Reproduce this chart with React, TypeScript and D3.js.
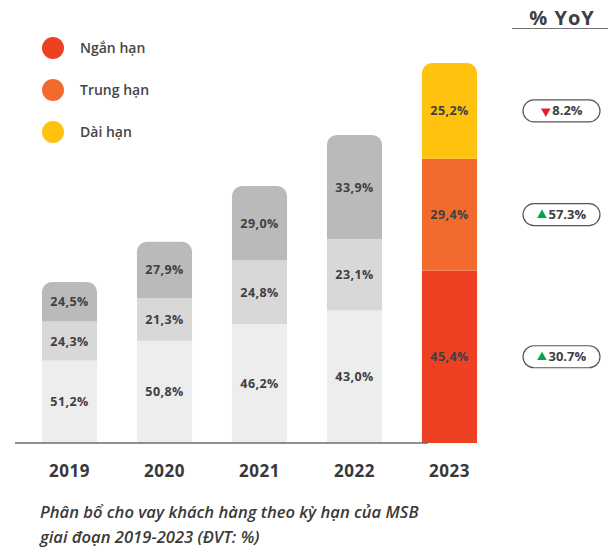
import * as d3 from 'd3';

const years = ['2019', '2020', '2021', '2022', '2023'];
// ước tính tổng dư nợ (tương đối, đọc theo chiều cao cột)
const loanTotals = [59.3, 74.1, 94.7, 113.5, 140];
const shortTerm = [51.2, 50.8, 46.2, 43.0, 45.4];
const midTerm = [24.3, 21.3, 24.8, 23.1, 29.4];
const longTerm = [24.5, 27.9, 29.0, 33.9, 25.2];

const seriesNames = ['Ngắn hạn', 'Trung hạn', 'Dài hạn'];
const seriesColors = ['#EE4123', '#F26A2C', '#FFC20F'];
const grayColors = ['#EDEDED', '#D9D8D9', '#BBBABB'];

const yoyValues = [30.7, 57.3, -8.2]; // theo thứ tự Ngắn, Trung, Dài hạn

const W = 608;
const H = 551;
const baseY = 443;
const textColor = '#404040';
const font = '"Open Sans", sans-serif';

function roundedTop(x: number, y: number, w: number, h: number, r: number) {
  const p = d3.path();
  p.moveTo(x, y + h);
  p.lineTo(x, y + r);
  p.arcTo(x, y, x + r, y, r);
  p.lineTo(x + w - r, y);
  p.arcTo(x + w, y, x + w, y + r, r);
  p.lineTo(x + w, y + h);
  p.closePath();
  return p.toString();
}

function fmt(v: number) {
  return v.toFixed(1).replace('.', ',') + '%';
}

export default function App() {
  const x = d3.scaleBand<string>().domain(years).range([22, 497]).paddingInner(0.42).paddingOuter(0.21);
  const y = d3.scaleLinear().domain([0, 140]).range([baseY, 63]);

  const shares = [shortTerm, midTerm, longTerm];
  const bars = years.map((yr, i) => {
    let cum = 0;
    const isLast = i === years.length - 1;
    return shares.map((s, k) => {
      const v0 = (loanTotals[i] * cum) / 100;
      cum += s[i];
      const v1 = (loanTotals[i] * cum) / 100;
      return {
        key: `${yr}-${k}`,
        x: x(yr) ?? 0,
        y0: y(v1),
        y1: y(v0),
        top: k === shares.length - 1,
        color: isLast ? seriesColors[k] : grayColors[k],
        label: fmt(s[i]),
        series: k,
        last: isLast,
      };
    });
  });

  const bw = x.bandwidth();
  const triUp = d3.symbol(d3.symbolTriangle, 40)() ?? '';

  return (
    <svg
      width={W}
      height={H}
      style={{ position: 'absolute', left: 0, top: 0, background: '#fff' }}
      fontFamily={font}
    >
      {/* legend */}
      {seriesNames.map((n, k) => (
        <g key={n} transform={`translate(53, ${48 + k * 42})`}>
          <circle r={11} fill={seriesColors[k]} />
          <text x={27} y={5} fontSize={14} fontWeight={600} fill="#454545">
            {n}
          </text>
        </g>
      ))}

      {/* bars */}
      {bars.flat().map((b) => (
        <g key={b.key}>
          {b.top ? (
            <path d={roundedTop(b.x, b.y0, bw, b.y1 - b.y0, 10)} fill={b.color} />
          ) : (
            <rect x={b.x} y={b.y0} width={bw} height={b.y1 - b.y0} fill={b.color} />
          )}
          <text
            x={b.x + bw / 2}
            y={(b.y0 + b.y1) / 2 + 4.5}
            textAnchor="middle"
            fontSize={12.5}
            fontWeight={700}
            letterSpacing={0.4}
            fill={textColor}
          >
            {b.label}
          </text>
        </g>
      ))}

      {/* baseline */}
      <line x1={15} x2={428} y1={baseY} y2={baseY} stroke="#6b6b6b" strokeWidth={1.5} />

      {/* year labels */}
      {years.map((yr) => (
        <text
          key={yr}
          x={(x(yr) ?? 0) + bw / 2}
          y={477}
          textAnchor="middle"
          fontSize={17}
          fontWeight={700}
          letterSpacing={0.5}
          fill="#383838"
        >
          {yr}
        </text>
      ))}

      {/* YoY header */}
      <text x={562} y={25} textAnchor="middle" fontSize={20} fontWeight={700} letterSpacing={1} fill={textColor}>
        % YoY
      </text>
      <line x1={512} x2={608} y1={28.5} y2={28.5} stroke="#777" strokeWidth={1.2} />

      {/* YoY pills at 2023 segment centers */}
      {bars[bars.length - 1].map((b) => {
        const v = yoyValues[b.series];
        const cy = (b.y0 + b.y1) / 2;
        const label = Math.abs(v).toFixed(1) + '%';
        const tw = label.length * 7.6;
        const start = 562 - (tw + 11) / 2;
        return (
          <g key={`yoy-${b.key}`}>
            <rect x={523} y={cy - 11} width={77} height={22} rx={11} fill="#fff" stroke="#555" strokeWidth={1.2} />
            <path
              d={triUp}
              transform={`translate(${start + 4.5}, ${cy + 0.5}) rotate(${v < 0 ? 180 : 0})`}
              fill={v < 0 ? '#E4202A' : '#00A650'}
            />
            <text x={start + 11} y={cy + 4.5} fontSize={13} fontWeight={700} fill={textColor}>
              {label}
            </text>
          </g>
        );
      })}

      {/* caption */}
      <text fontSize={16.6} fontStyle="italic" fontWeight={600} fill="#3a3a3a">
        <tspan x={40} y={518}>Phân bổ cho vay khách hàng theo kỳ hạn của MSB</tspan>
        <tspan x={40} y={543}>giai đoạn 2019-2023 (ĐVT: %)</tspan>
      </text>
    </svg>
  );
}
